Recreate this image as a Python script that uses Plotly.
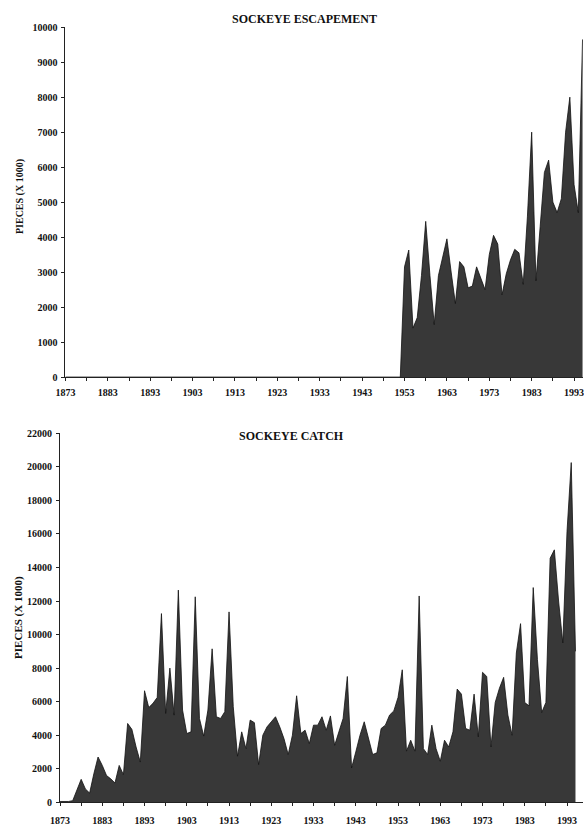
import plotly.graph_objects as go

# ---------------- data ----------------
esc_years = list(range(1873, 1996))
esc_values_1952_1995 = [
    0, 3150, 3630, 1400, 1700, 2900, 4450, 2900, 1500, 2900,   # 1952-1961
    3400, 3950, 3000, 2100, 3300, 3150, 2550, 2600, 3150, 2800,  # 1962-1971
    2500, 3500, 4050, 3800, 2350, 2950, 3350, 3650, 3550, 2650,  # 1972-1981
    4600, 7000, 2750, 4300, 5850, 6200, 5000, 4700, 5100, 7000,  # 1982-1991
    8000, 5500, 4700, 9650,                                      # 1992-1995
]
esc_values = [0] * (1952 - 1873) + esc_values_1952_1995

catch_years = list(range(1873, 1996))
catch_values = [
    50, 50, 50, 100, 700, 1370, 800, 550, 1700, 2700,            # 1873-1882
    2200, 1600, 1400, 1150, 2200, 1650, 4700, 4350, 3300, 2400,  # 1883-1892
    6650, 5650, 5900, 6250, 11250, 5300, 8000, 5200, 12650, 5500,  # 1893-1902
    4100, 4200, 12250, 5000, 3950, 5500, 9150, 5100, 5000, 5400,  # 1903-1912
    11350, 5700, 2750, 4200, 3200, 4900, 4750, 2250, 4000, 4500,  # 1913-1922
    4800, 5100, 4500, 3800, 2850, 4000, 6350, 4100, 4300, 3500,  # 1923-1932
    4600, 4600, 5100, 4300, 5150, 3400, 4200, 5000, 7500, 2050,  # 1933-1942
    3000, 4000, 4800, 3800, 2850, 2950, 4400, 4600, 5200, 5450,  # 1943-1952
    6250, 7900, 3050, 3700, 3050, 12300, 3200, 2850, 4600, 3200,  # 1953-1962
    2450, 3700, 3300, 4200, 6750, 6450, 4400, 4300, 6450, 3900,  # 1963-1972
    7750, 7500, 3300, 5950, 6800, 7450, 5200, 4000, 8900, 10650,  # 1973-1982
    5950, 5750, 12800, 8500, 5350, 5950, 14550, 15050, 12000, 9500,  # 1983-1992
    16150, 20250, 9000,                                          # 1993-1995
]

x_tickvals = list(range(1873, 2000, 10))
x_ticktext = [str(v) for v in x_tickvals]
esc_yticks = list(range(0, 10001, 1000))
catch_yticks = list(range(0, 22001, 2000))

titles = ["SOCKEYE ESCAPEMENT", "SOCKEYE CATCH"]
ytitle = "PIECES (X 1000)"

# ---------------- figure ----------------
W, H = 584, 830
FILL = "#383838"
LINE = "#111111"
FONT = dict(family="Liberation Serif, Times New Roman, serif", size=10, color="#111111", weight="bold")

fig = go.Figure()
fig.add_trace(go.Scatter(x=esc_years, y=esc_values, mode="lines", fill="tozeroy",
                         fillcolor=FILL, line=dict(color=LINE, width=0.8),
                         xaxis="x", yaxis="y", hoverinfo="skip", showlegend=False))
fig.add_trace(go.Scatter(x=catch_years, y=catch_values, mode="lines", fill="tozeroy",
                         fillcolor=FILL, line=dict(color=LINE, width=0.8),
                         xaxis="x2", yaxis="y2", hoverinfo="skip", showlegend=False))

def xaxis(left_px, px_per_year, standoff):
    return dict(
        domain=[left_px / W, 1.0],
        range=[1873, 1873 + (W - left_px) / px_per_year],
        tickmode="array", tickvals=x_tickvals, ticktext=x_ticktext,
        ticks="outside", ticklen=3, tickwidth=1, tickcolor="#222",
        minor=dict(dtick=5, tick0=1873, ticks="outside", ticklen=3, tickwidth=1, tickcolor="#222"),
        showline=True, linecolor="#222", linewidth=1,
        showgrid=False, zeroline=False, tickfont=FONT, ticklabelstandoff=standoff,
        ticklabeloverflow="allow", fixedrange=True,
    )

def yaxis(y0_px, ytop_px, top, ticks, anchor):
    return dict(
        domain=[1 - y0_px / H, 1 - ytop_px / H],
        range=[0, top], tickmode="array", tickvals=ticks,
        ticktext=[str(v) for v in ticks],
        ticks="outside", ticklen=3, tickwidth=1, tickcolor="#222",
        showline=True, linecolor="#222", linewidth=1,
        showgrid=False, zeroline=False, tickfont=FONT, anchor=anchor,
        ticklabelstandoff=2, fixedrange=True,
    )

fig.update_layout(
    width=W, height=H, margin=dict(l=0, r=0, t=0, b=0),
    paper_bgcolor="white", plot_bgcolor="white",
    font=FONT,
    xaxis=dict(xaxis(56.5, 4.32, 3), anchor="y"),
    yaxis=yaxis(376.5, 21.5, 10000, esc_yticks, "x"),
    xaxis2=dict(xaxis(51.0, 4.306, 6), anchor="y2"),
    yaxis2=yaxis(808.0, 433.5, 22000, catch_yticks, "x2"),
)

TFONT = dict(family="Liberation Serif, Times New Roman, serif", size=12, color="#111", weight="bold")
fig.add_annotation(text=titles[0], x=300 / W, y=1 - 13 / H, xref="paper", yref="paper",
                   showarrow=False, font=TFONT, xanchor="center", yanchor="middle")
fig.add_annotation(text=titles[1], x=287 / W, y=1 - 436 / H, xref="paper", yref="paper",
                   showarrow=False, font=TFONT, xanchor="center", yanchor="middle")
YFONT = dict(family="Liberation Serif, Times New Roman, serif", size=10, color="#111", weight="bold")
fig.add_annotation(text=ytitle, x=10 / W, y=1 - 193 / H, xref="paper", yref="paper",
                   showarrow=False, font=YFONT, textangle=-90, xanchor="center", yanchor="middle")
fig.add_annotation(text=ytitle, x=8 / W, y=1 - 620 / H, xref="paper", yref="paper",
                   showarrow=False, font=dict(YFONT, size=11), textangle=-90, xanchor="center", yanchor="middle")

fig.write_html("out.html")
